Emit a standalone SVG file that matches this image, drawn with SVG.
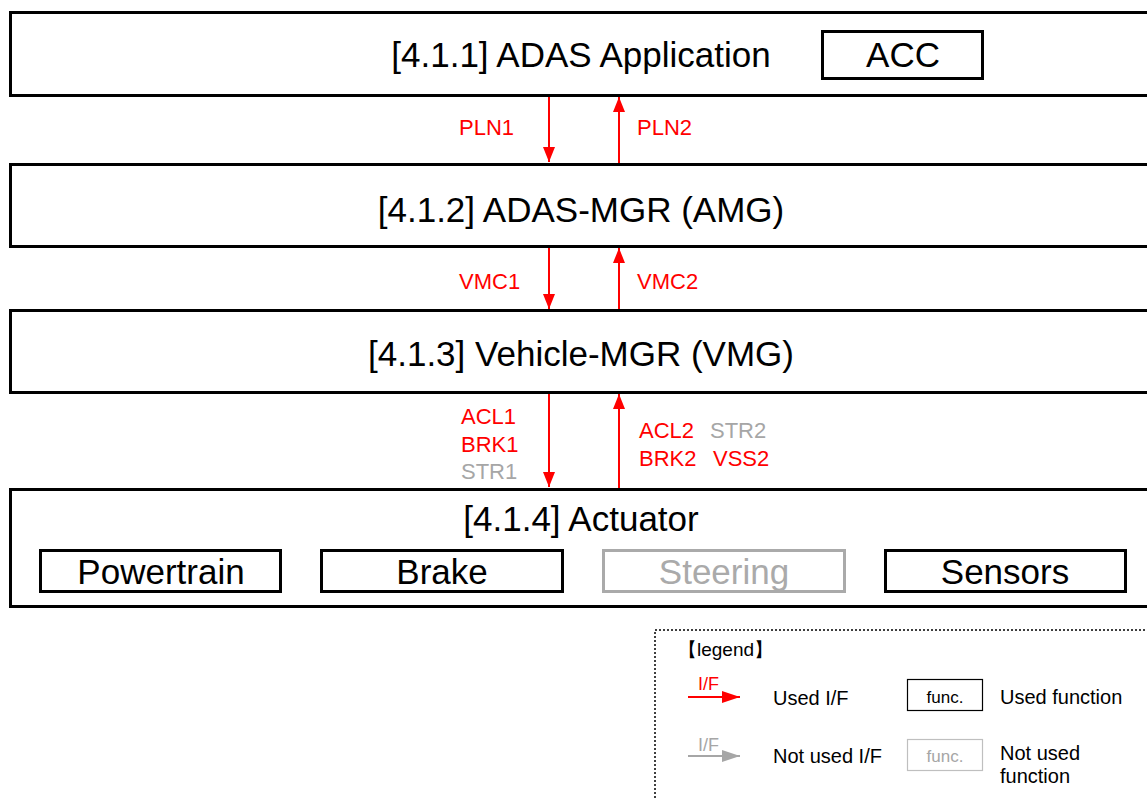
<svg xmlns="http://www.w3.org/2000/svg" width="1147" height="799" viewBox="0 0 1147 799">
<style>
text{font-family:"Liberation Sans",Arial,sans-serif}
.box{fill:#fff;stroke:#000;stroke-width:3}
.sub{fill:#fff;stroke:#000;stroke-width:3}
.subg{fill:#fff;stroke:#AAAAAA;stroke-width:3}
.title{font-size:35px;fill:#000;text-anchor:middle}
.titleg{font-size:35px;fill:#AAAAAA;text-anchor:middle}
.lbl{font-size:22px;fill:#FF0000}
.lblg{font-size:22px;fill:#A6A6A6}
.red{stroke:#FF0000;stroke-width:2;fill:none}
.gray{stroke:#A6A6A6;stroke-width:2;fill:none}
.leg{font-size:20px;fill:#000}
</style>
<defs>
<marker id="ar" viewBox="0 0 15 12" refX="15" refY="6" markerWidth="15" markerHeight="12" markerUnits="userSpaceOnUse" orient="auto">
<path d="M0,0 L15,6 L0,12 Z" fill="#FF0000"/>
</marker>
<marker id="ag" viewBox="0 0 15 12" refX="15" refY="6" markerWidth="15" markerHeight="12" markerUnits="userSpaceOnUse" orient="auto">
<path d="M0,0 L15,6 L0,12 Z" fill="#A6A6A6"/>
</marker>
<marker id="arl" viewBox="0 0 18 12" refX="18" refY="6" markerWidth="18" markerHeight="12" markerUnits="userSpaceOnUse" orient="auto">
<path d="M0,0 L18,6 L0,12 Z" fill="#FF0000"/>
</marker>
<marker id="agl" viewBox="0 0 18 12" refX="18" refY="6" markerWidth="18" markerHeight="12" markerUnits="userSpaceOnUse" orient="auto">
<path d="M0,0 L18,6 L0,12 Z" fill="#A6A6A6"/>
</marker>
</defs>
<rect width="1147" height="799" fill="#fff"/>

<g id="adas-app">
<rect class="box" x="10.5" y="12.5" width="1150" height="83"/>
<text class="title" x="581" y="67">[4.1.1] ADAS Application</text>
<rect class="sub" x="822.5" y="31.5" width="160" height="47"/>
<text class="title" x="903" y="67">ACC</text>
</g>

<g id="adas-mgr">
<rect class="box" x="10.5" y="164.5" width="1150" height="82"/>
<text class="title" x="581" y="222">[4.1.2] ADAS-MGR (AMG)</text>
</g>

<g id="vehicle-mgr">
<rect class="box" x="10.5" y="310.5" width="1150" height="82"/>
<text class="title" x="581" y="366">[4.1.3] Vehicle-MGR (VMG)</text>
</g>

<g id="actuator">
<rect class="box" x="10.5" y="489.5" width="1150" height="117"/>
<text class="title" x="581" y="531">[4.1.4] Actuator</text>
<g id="powertrain">
<rect class="sub" x="40.5" y="550.5" width="240" height="41"/>
<text class="title" x="161" y="584">Powertrain</text>
</g>
<g id="brake">
<rect class="sub" x="321.5" y="550.5" width="241" height="41"/>
<text class="title" x="442" y="584">Brake</text>
</g>
<g id="steering">
<rect class="subg" x="603.5" y="550.5" width="241" height="41"/>
<text class="titleg" x="724" y="584">Steering</text>
</g>
<g id="sensors">
<rect class="sub" x="885.5" y="550.5" width="240" height="41"/>
<text class="title" x="1005" y="584">Sensors</text>
</g>
</g>

<g id="connectors">
<line class="red" x1="549" y1="97" x2="549" y2="162" marker-end="url(#ar)"/>
<line class="red" x1="619" y1="163" x2="619" y2="97" marker-end="url(#ar)"/>
<line class="red" x1="549" y1="248" x2="549" y2="309" marker-end="url(#ar)"/>
<line class="red" x1="619" y1="309" x2="619" y2="248" marker-end="url(#ar)"/>
<line class="red" x1="549" y1="394" x2="549" y2="487" marker-end="url(#ar)"/>
<line class="red" x1="619" y1="488" x2="619" y2="394" marker-end="url(#ar)"/>
<text class="lbl" x="459" y="135">PLN1</text>
<text class="lbl" x="637" y="135">PLN2</text>
<text class="lbl" x="459" y="289">VMC1</text>
<text class="lbl" x="637" y="289">VMC2</text>
<text class="lbl" x="461" y="424">ACL1</text>
<text class="lbl" x="461" y="452">BRK1</text>
<text class="lblg" x="461" y="479">STR1</text>
<text class="lbl" x="639" y="438">ACL2</text>
<text class="lblg" x="710" y="438">STR2</text>
<text class="lbl" x="639" y="466">BRK2</text>
<text class="lbl" x="713" y="466">VSS2</text>
</g>

<g id="legend">
<rect x="655" y="630" width="520" height="200" fill="none" stroke="#000" stroke-width="1.5" stroke-dasharray="2,2"/>
<text x="678" y="656" font-size="19px" fill="#000">【legend】</text>
<line class="red" x1="688" y1="697" x2="740" y2="697" marker-end="url(#arl)"/>
<text x="698" y="690" font-size="18px" fill="#FF0000">I/F</text>
<text class="leg" x="773" y="705">Used I/F</text>
<line class="gray" x1="688" y1="756" x2="740" y2="756" marker-end="url(#agl)"/>
<text x="698" y="751" font-size="18px" fill="#A6A6A6">I/F</text>
<text class="leg" x="773" y="763">Not used I/F</text>
<rect x="907.5" y="679.5" width="75" height="31" fill="#fff" stroke="#000" stroke-width="1.2"/>
<text x="945" y="703" font-size="17px" fill="#000" text-anchor="middle">func.</text>
<text class="leg" x="1000" y="704">Used function</text>
<rect x="907.5" y="739.5" width="75" height="31" fill="#fff" stroke="#BFBFBF" stroke-width="1.2"/>
<text x="945" y="762" font-size="17px" fill="#A6A6A6" text-anchor="middle">func.</text>
<text class="leg" x="1000" y="760">Not used</text>
<text class="leg" x="1000" y="783">function</text>
</g>
</svg>
